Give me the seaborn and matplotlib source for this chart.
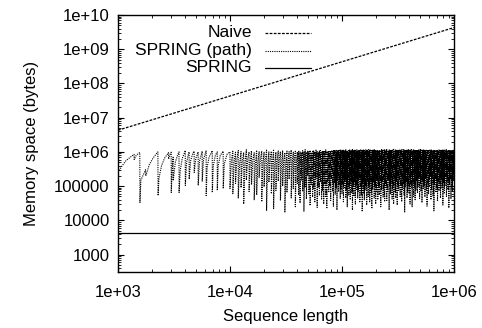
import numpy as np
import pandas as pd
import matplotlib
matplotlib.use("Agg")
import matplotlib.pyplot as plt
import seaborn as sns
from matplotlib.ticker import FixedLocator, LogLocator, NullFormatter

# ---------------- data ----------------
x_ticks = [1e3, 1e4, 1e5, 1e6]
x_tick_labels = ["1e+03", "1e+04", "1e+05", "1e+06"]
y_ticks = [1e3, 1e4, 1e5, 1e6, 1e7, 1e8, 1e9, 1e10]
y_tick_labels = ["1000", "10000", "100000", "1e+06", "1e+07", "1e+08", "1e+09", "1e+10"]

# Naive: memory grows linearly with sequence length
naive_n = [1e3, 1e4, 1e5, 1e6]
naive_mem = [4.3e6, 4.3e7, 4.3e8, 4.3e9]

# SPRING: constant memory
spring_n = [1e3, 1e6]
spring_mem = [4200, 4200]

# SPRING (path): sparse part (n < 1e4), explicit vertices (memory in kB)
path_sparse_n = [1000, 1080, 1180, 1300, 1390, 1395, 1450, 1520, 1565,
                 1570, 1600, 1700, 1760, 1770, 1900, 2050, 2180, 2270,
                 2280, 2320, 2450, 2600, 2750, 2820, 2830, 2930, 2985,
                 2990, 3050, 3105,
                 3110, 3250, 3400, 3505,
                 3510, 3600, 3750, 3900, 3985,
                 3990, 4100, 4250, 4315,
                 4320, 4450, 4650, 4785,
                 4790, 4950, 5195,
                 5200, 5350, 5645,
                 5650, 5800, 6125,
                 6130, 6250, 6500, 6945,
                 6950, 7100, 7400, 7695,
                 7700, 7850, 8200, 8695,
                 8700, 8900, 9400, 9995]
path_sparse_kb = [250, 380, 560, 720, 850, 600, 780, 900, 960,
                  33, 150, 230, 300, 200, 420, 650, 850, 1000,
                  53, 170, 400, 650, 850, 950, 620, 900, 980,
                  65, 350, 700,
                  145, 500, 800, 1000,
                  65, 300, 650, 900, 1100,
                  105, 500, 850, 1000,
                  160, 550, 900, 1050,
                  250, 650, 1000,
                  105, 550, 1050,
                  140, 600, 1100,
                  53, 350, 700, 1080,
                  65, 400, 800, 1000,
                  75, 400, 800, 1050,
                  85, 450, 850, 1000]

# SPRING (path), 1e4..1e5: resets (thousands of elements); per tooth: trough after reset,
# value half-way, peak before next reset (kB)
dec2_reset_k = [
    10.0, 10.6, 11.2, 11.85, 12.55, 13.25, 14.0, 14.8, 15.55, 16.45,
    17.3, 18.2, 19.2, 20.15, 21.2, 22.25, 23.4, 24.5, 25.7, 26.95,
    28.2, 29.5, 30.9, 32.25, 33.7, 35.2, 36.75, 38.3,
    39.9, 41.0, 42.2, 43.3, 44.5, 45.7, 46.9, 48.1, 49.4, 50.6,
    51.9, 53.2, 54.6, 55.9, 57.2, 58.6, 60.0, 61.4, 62.8, 64.2,
    65.7, 67.1, 68.6, 70.1, 71.6, 73.1, 74.6, 76.1, 77.6, 79.2,
    80.7, 82.3, 83.8, 85.4, 87.0, 88.5, 90.1, 91.7, 93.2, 94.8,
    96.4, 97.9]
dec2_trough_kb = [
    85, 60, 120, 45, 90, 30, 150, 70, 110, 40,
    55, 180, 35, 95, 19, 130, 60, 22, 75, 140,
    38, 100, 17, 65, 160, 45, 85, 25,
    120, 55, 32, 150, 70, 18, 95, 42, 200, 60,
    27, 110, 48, 80, 35, 170, 24, 90, 55, 130,
    40, 75, 30, 115, 50, 22, 140, 65, 105, 38,
    160, 72, 26, 125, 58, 90, 20, 145, 68, 110,
    44, 85]
dec2_mid_kb = [
    560, 520, 610, 480, 550, 500, 640, 530, 590, 470,
    520, 650, 490, 580, 450, 600, 540, 460, 560, 610,
    500, 570, 440, 530, 640, 490, 560, 470,
    600, 520, 480, 630, 550, 450, 570, 500, 660, 530,
    470, 590, 510, 560, 490, 640, 460, 570, 520, 610,
    500, 550, 480, 600, 510, 460, 620, 540, 590, 500,
    640, 560, 470, 610, 530, 570, 460, 630, 550, 600,
    510, 560]
dec2_peak_kb = [
    1050, 980, 1100, 1020, 960, 1150, 1000, 1080, 940, 1120,
    1010, 1060, 970, 1130, 1000, 1040, 1190, 990, 1070, 1020,
    1100, 950, 1060, 1010, 1140, 980, 1050, 1000,
    1090, 1030, 970, 1080, 1020, 1160, 990, 1050, 1010, 1110,
    960, 1040, 1070, 1000, 1130, 1020, 980, 1060, 1100, 990,
    1040, 1080, 1010, 1150, 990, 1050, 1020, 1100, 1060, 1120,
    1040, 1090, 1150, 1070, 1110, 1050, 1130, 1080, 1100, 1140,
    1060, 1120]

# SPRING (path), 1e5..1e6: same layout
dec3_reset_k = [
    100.0, 101.6, 103.0, 104.8, 106.2, 108.1, 109.5, 111.4, 112.9, 114.9,
    116.5, 118.5, 120.1, 122.2, 123.9, 126.0, 127.7, 129.9, 131.6, 133.9,
    135.7, 138.1, 140.0, 142.4, 144.3, 146.9, 148.8, 151.5, 153.5, 156.2,
    158.3, 161.1, 163.2, 166.1, 168.3, 171.3, 173.5, 176.7, 179.0, 182.2,
    184.5, 187.9, 190.3, 193.8, 196.2, 199.8, 202.3, 206.1, 208.6, 212.5,
    215.1, 219.1, 221.8, 225.9, 228.7, 232.9, 235.8, 240.2, 243.2, 247.7,
    250.8, 255.5, 258.6, 263.4, 266.7, 271.6, 275.0, 280.1, 283.5, 288.8,
    292.4, 297.9, 301.5, 307.1, 311.0, 316.7, 320.6, 326.6, 330.6, 336.8,
    340.9, 347.3, 351.5, 358.1, 362.5, 369.3, 373.8, 380.8, 385.5, 392.7,
    397.4, 404.9, 409.8, 417.5, 422.6, 430.5, 435.8, 444.0, 449.4, 457.8,
    463.4, 472.0, 477.8, 486.8, 492.7, 502.0, 508.1, 517.6, 523.9, 533.7,
    540.3, 550.3, 557.0, 567.4, 574.4, 585.0, 592.3, 603.3, 610.9, 622.2,
    630.0, 641.7, 649.7, 661.7, 669.9, 682.3, 690.7, 703.6, 712.2, 725.4,
    734.4, 748.0, 757.3, 771.4, 780.9, 795.5, 805.3, 820.4, 830.4, 846.0,
    856.3, 872.3, 883.0, 899.4, 910.5, 927.4, 938.9, 956.3, 968.2, 986.2]
dec3_trough_kb = [
    60, 120, 35, 90, 150, 45, 75, 25, 110, 55,
    85, 40, 140, 65, 20, 100, 50, 130, 30, 80,
    115, 45, 70, 160, 35, 95, 55, 18, 125, 60,
    40, 105, 75, 28, 145, 50, 90, 35, 120, 65,
    22, 85, 130, 45, 100, 30, 70, 155, 40, 95,
    55, 110, 25, 80, 140, 48, 65, 35, 120, 90,
    38, 70, 150, 20, 100, 58, 125, 42, 85, 30,
    110, 65, 45, 135, 28, 90, 75, 160, 50, 100,
    35, 80, 120, 55, 17, 95, 140, 45, 70, 105,
    60, 30, 115, 85, 25, 130, 50, 90, 40, 75,
    140, 62, 95, 180, 44, 120, 70, 33, 150, 85,
    105, 48, 165, 75, 26, 130, 58, 95, 190, 40,
    80, 125, 52, 19, 110, 170, 65, 90, 36, 140,
    72, 115, 45, 155, 88, 28, 125, 60, 100, 200,
    50, 135, 78, 23, 110, 160, 42, 95, 68, 145]
dec3_mid_kb = [
    560, 610, 500, 580, 640, 520, 570, 480, 600, 540,
    580, 510, 630, 550, 470, 600, 530, 620, 490, 570,
    610, 520, 560, 650, 500, 590, 540, 460, 620, 550,
    510, 600, 570, 480, 640, 530, 590, 500, 610, 560,
    470, 580, 620, 520, 600, 490, 560, 650, 510, 590,
    540, 600, 480, 570, 630, 520, 560, 500, 610, 590,
    510, 560, 640, 470, 600, 540, 620, 520, 580, 490,
    600, 560, 520, 630, 480, 590, 570, 650, 530, 600,
    500, 570, 610, 540, 460, 590, 630, 520, 560, 600,
    550, 490, 610, 580, 480, 620, 530, 590, 510, 570,
    630, 550, 590, 670, 520, 610, 560, 500, 640, 580,
    600, 530, 650, 570, 490, 620, 550, 590, 680, 510,
    570, 620, 540, 470, 600, 660, 560, 590, 500, 630,
    560, 610, 520, 640, 580, 490, 620, 550, 600, 690,
    530, 630, 570, 480, 610, 650, 520, 590, 560, 640]
dec3_peak_kb = [
    1080, 1120, 1040, 1100, 1160, 1060, 1110, 1030, 1090, 1140,
    1070, 1120, 1050, 1180, 1090, 1060, 1120, 1100, 1050, 1150,
    1100, 1130, 1070, 1110, 1200, 1080, 1120, 1060, 1140, 1100,
    1090, 1150, 1070, 1120, 1100, 1170, 1080, 1130, 1110, 1060,
    1120, 1100, 1160, 1080, 1130, 1090, 1150, 1110, 1070, 1140,
    1100, 1120, 1180, 1090, 1130, 1100, 1150, 1080, 1120, 1160,
    1110, 1090, 1140, 1120, 1070, 1150, 1100, 1130, 1190, 1100,
    1120, 1140, 1090, 1110, 1160, 1080, 1130, 1120, 1100, 1150,
    1110, 1170, 1090, 1130, 1120, 1100, 1140, 1080, 1150, 1120,
    1100, 1130, 1160, 1090, 1120, 1140, 1110, 1150, 1100, 1130,
    1120, 1090, 1150, 1110, 1170, 1100, 1130, 1080, 1140, 1120,
    1160, 1100, 1120, 1090, 1150, 1130, 1110, 1180, 1100, 1140,
    1120, 1090, 1160, 1110, 1130, 1100, 1150, 1120, 1080, 1140,
    1110, 1170, 1100, 1130, 1120, 1150, 1090, 1140, 1110, 1160,
    1100, 1130, 1120, 1150, 1090, 1140, 1110, 1120, 1160, 1130]
n_end = 1e6

# ---------------- build tables ----------------
teeth_n = [v * 1000 for v in dec2_reset_k + dec3_reset_k]
teeth_trough = dec2_trough_kb + dec3_trough_kb
teeth_mid = dec2_mid_kb + dec3_mid_kb
teeth_peak = dec2_peak_kb + dec3_peak_kb
teeth_end = teeth_n[1:] + [n_end]

dense_n, dense_kb = [], []
for r, t, m, e, p in zip(teeth_n, teeth_trough, teeth_mid, teeth_end, teeth_peak):
    dense_n += [r, (r + e) / 2, e]
    dense_kb += [t, m, p]

path_df = pd.DataFrame({
    "n": path_sparse_n + dense_n,
    "mem": [v * 1000 for v in path_sparse_kb + dense_kb],
})
naive_df = pd.DataFrame({"n": naive_n, "mem": naive_mem})
spring_df = pd.DataFrame({"n": spring_n, "mem": spring_mem})

# ---------------- style ----------------
sns.set_theme(style="white")
plt.rcParams["font.family"] = ["Liberation Sans", "DejaVu Sans"]
plt.rcParams["font.size"] = 12

fig = plt.figure(figsize=(4.82, 3.28), dpi=100)
ax = fig.add_axes([118 / 482, 1 - 272 / 328, (454 - 118) / 482, (272 - 15) / 328])

ax.set_xscale("log")
ax.set_yscale("log")

naive_style = dict(color="black", linewidth=0.9, linestyle=(0, (2.2, 1.1)))
path_style = dict(color="black", linewidth=0.8, linestyle=(0, (1.0, 1.0)))
spring_style = dict(color="black", linewidth=0.9, linestyle="-")

sns.lineplot(data=path_df, x="n", y="mem", ax=ax, estimator=None, sort=False, **path_style)
sns.lineplot(data=naive_df, x="n", y="mem", ax=ax, estimator=None, sort=False, **naive_style)
sns.lineplot(data=spring_df, x="n", y="mem", ax=ax, estimator=None, sort=False, **spring_style)

ax.set_xlim(1e3, 1e6)
ax.set_ylim(310, 1e10)

ax.xaxis.set_major_locator(FixedLocator(x_ticks))
ax.set_xticklabels(x_tick_labels)
ax.yaxis.set_major_locator(FixedLocator(y_ticks))
ax.set_yticklabels(y_tick_labels)
ax.xaxis.set_minor_locator(LogLocator(base=10, subs=np.arange(2, 10), numticks=20))
ax.yaxis.set_minor_locator(LogLocator(base=10, subs=np.arange(2, 10), numticks=20))
ax.xaxis.set_minor_formatter(NullFormatter())
ax.yaxis.set_minor_formatter(NullFormatter())

ax.tick_params(which="both", direction="in", top=True, right=True, bottom=True, left=True,
               colors="black", labelcolor="black")
ax.tick_params(which="major", length=4, width=0.8, labelsize=12)
ax.tick_params(which="minor", length=2, width=0.6)
ax.tick_params(axis="x", which="major", pad=9.5)
ax.tick_params(axis="y", which="major", pad=6)

for s in ax.spines.values():
    s.set_color("black")
    s.set_linewidth(1.0)
    s.set_visible(True)

ax.set_xlabel("Sequence length", fontsize=12, color="black", labelpad=6)
ax.set_ylabel("Memory space (bytes)", fontsize=12, color="black", labelpad=11)

# ---------------- legend (gnuplot style: right-aligned text, sample on the right) ----------------
legend_labels = ["Naive", "SPRING (path)", "SPRING"]
legend_styles = [naive_style, path_style, spring_style]
legend_y = [0.930, 0.860, 0.794]
for lab, sty, yy in zip(legend_labels, legend_styles, legend_y):
    ax.text(0.399, yy, lab, transform=ax.transAxes, ha="right", va="center",
            fontsize=12.5, color="black")
    ax.plot([0.4375, 0.574], [yy, yy], transform=ax.transAxes, **sty)

fig.savefig("out.png", dpi=100, facecolor="white")
